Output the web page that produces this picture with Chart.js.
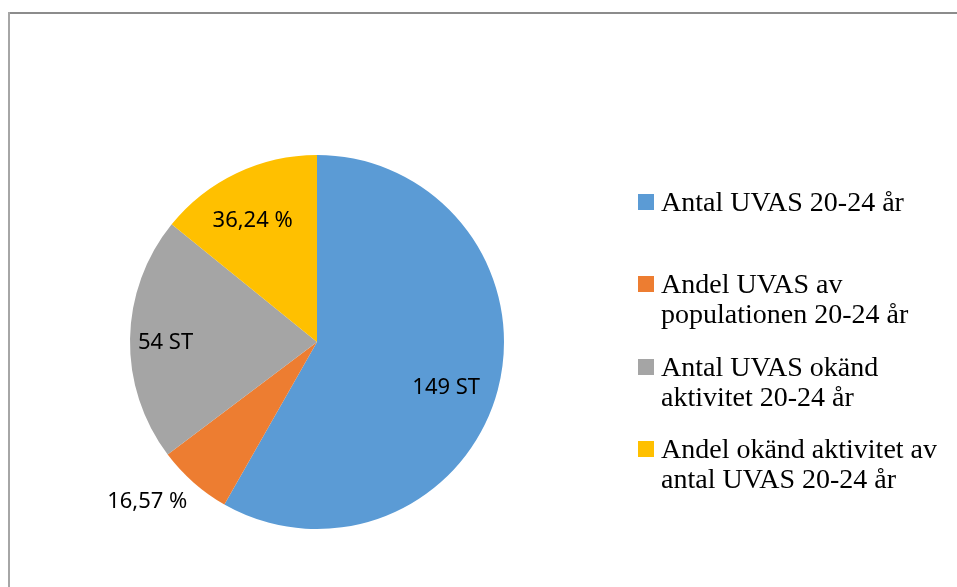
<!DOCTYPE html>
<html>
<head>
<meta charset="utf-8">
<script src="https://cdn.jsdelivr.net/npm/chart.js@4.4.1/dist/chart.umd.min.js"></script>
<style>
  html, body { margin: 0; padding: 0; background: #fff; }
  #wrap { position: relative; width: 957px; height: 587px; }
</style>
</head>
<body>
<div id="wrap"><canvas id="grafico"></canvas></div>
<script>
// dados do gráfico
const categorias = [
    ['Antal UVAS 20-24 år'],
    ['Andel UVAS av', 'populationen 20-24 år'],
    ['Antal UVAS okänd', 'aktivitet 20-24 år'],
    ['Andel okänd aktivitet av', 'antal UVAS 20-24 år']
];
const valores = [149, 16.57, 54, 36.24];
const rotulos = ['149 ST', '16,57 %', '54 ST', '36,24 %'];
const cores = ['#5B9BD5', '#ED7D31', '#A5A5A5', '#FFC000'];

// posicao do rotulo: fracao do raio e desvio do angulo (graus)
const distRotulo = [0.73, 1.24, 0.81, 0.74];
const desvioRotulo = [4, 5.7, -0.6, -2.2];

// moldura cinza (topo e esquerda)
const molduraPlugin = {
    id: 'moldura',
    beforeDraw(chart) {
        const ctx = chart.ctx;
        ctx.save();
        ctx.fillStyle = '#8c8c8c';
        ctx.fillRect(8, 12, chart.width - 8, 2);
        ctx.fillStyle = '#a6a6a6';
        ctx.fillRect(8, 12, 2, chart.height - 12);
        ctx.restore();
    }
};

// rotulos das fatias
const rotulosPlugin = {
    id: 'rotulos',
    afterDatasetsDraw(chart) {
        const ctx = chart.ctx;
        const meta = chart.getDatasetMeta(0);
        ctx.save();
        ctx.font = '22px "Noto Sans"';
        ctx.fillStyle = '#000';
        ctx.textAlign = 'center';
        ctx.textBaseline = 'middle';
        meta.data.forEach((arc, i) => {
            const meio = (arc.startAngle + arc.endAngle) / 2 + desvioRotulo[i] * Math.PI / 180;
            const r = arc.outerRadius * distRotulo[i];
            const x = arc.x + Math.cos(meio) * r;
            const y = arc.y + Math.sin(meio) * r + 1.5;
            ctx.fillText(rotulos[i], x, y);
        });
        ctx.restore();
    }
};

// legenda desenhada a direita
const legendaPlugin = {
    id: 'legenda',
    afterDraw(chart) {
        const ctx = chart.ctx;
        const topos = [194, 276, 359, 441];
        const alturaLinha = 30;
        ctx.save();
        ctx.font = '28px "Liberation Serif"';
        ctx.textAlign = 'left';
        ctx.textBaseline = 'alphabetic';
        chart.data.labels.forEach((linhas, i) => {
            ctx.fillStyle = cores[i];
            ctx.fillRect(638, topos[i], 16, 16);
            ctx.fillStyle = '#000';
            linhas.forEach((txt, j) => {
                ctx.fillText(txt, 661, topos[i] + 17 + j * alturaLinha);
            });
        });
        ctx.restore();
    }
};

const ctx = document.getElementById('grafico').getContext('2d');
const grafico = new Chart(ctx, {
    type: 'pie',
    data: {
        labels: categorias,
        datasets: [{
            data: valores,
            backgroundColor: cores,
            borderWidth: 0
        }]
    },
    options: {
        responsive: true,
        maintainAspectRatio: false,
        animation: false,
        layout: {
            padding: { left: 130, right: 453, top: 155, bottom: 58 }
        },
        plugins: {
            legend: { display: false },
            tooltip: { enabled: false }
        }
    },
    plugins: [molduraPlugin, rotulosPlugin, legendaPlugin]
});
</script>
</body>
</html>
